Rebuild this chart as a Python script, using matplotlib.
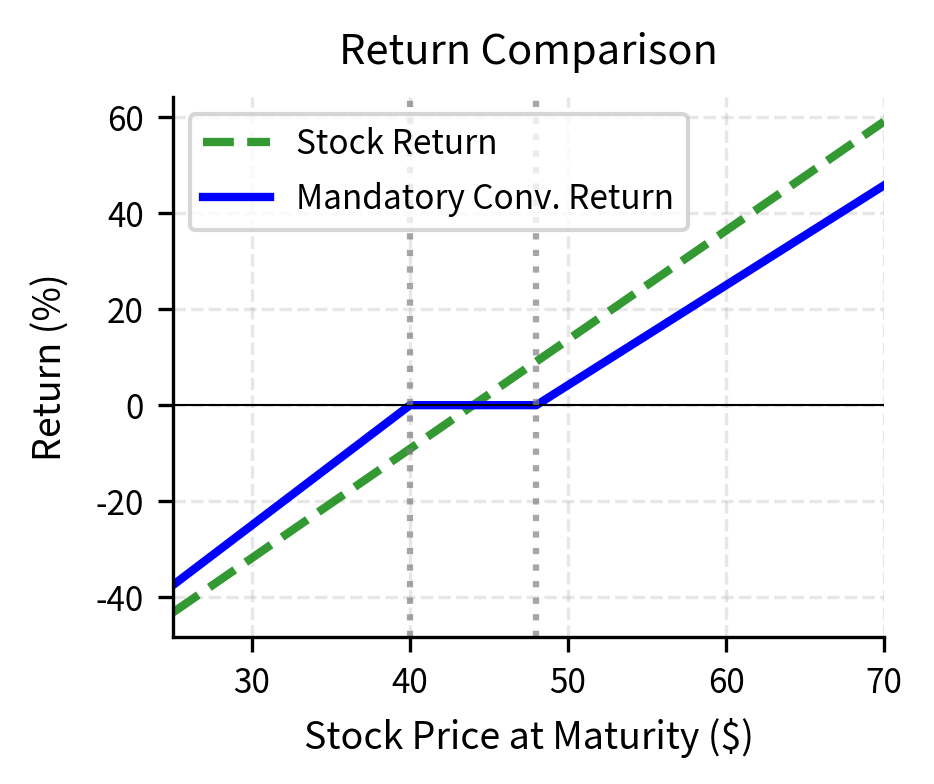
import matplotlib
matplotlib.use("Agg")
import matplotlib.pyplot as plt

plt.rcParams['font.family'] = ['Noto Sans CJK KR', 'DejaVu Sans']
plt.rcParams['axes.unicode_minus'] = False

# Data
price_points = [25, 40, 48, 70]
stock_return = [-43.2, -9.1, 9.1, 59.1]
conv_return = [-37.5, 0.0, 0.0, 45.8]
lower_strike = 40
upper_strike = 48

fig, ax = plt.subplots(figsize=(934 / 300, 784 / 300), dpi=300)

ax.plot(price_points, stock_return, linestyle='--', color='green', alpha=0.8,
        linewidth=2, label='Stock Return')
ax.plot(price_points, conv_return, color='blue', linewidth=2,
        label='Mandatory Conv. Return')

ax.axhline(0, color='black', linewidth=0.5)
ax.axvline(lower_strike, color='gray', linestyle=':', alpha=0.7, linewidth=1.5)
ax.axvline(upper_strike, color='gray', linestyle=':', alpha=0.7, linewidth=1.5)

ax.set_xlim(25, 70)
ax.set_xticks([30, 40, 50, 60, 70])
ax.set_yticks([-40, -20, 0, 20, 40, 60])
ax.grid(True, linestyle='--', alpha=0.3)
ax.spines['top'].set_visible(False)
ax.spines['right'].set_visible(False)

ax.set_title('Return Comparison', fontsize=10, pad=8)
ax.set_xlabel('Stock Price at Maturity ($)', fontsize=9)
ax.set_ylabel('Return (%)', fontsize=9, labelpad=6)
ax.tick_params(labelsize=8)
ax.legend(fontsize=8, loc='upper left', labelspacing=0.6)

fig.subplots_adjust(left=173 / 934, right=884 / 934, top=1 - 97 / 784, bottom=1 - 637 / 784)
fig.savefig('out.png', dpi=300)
